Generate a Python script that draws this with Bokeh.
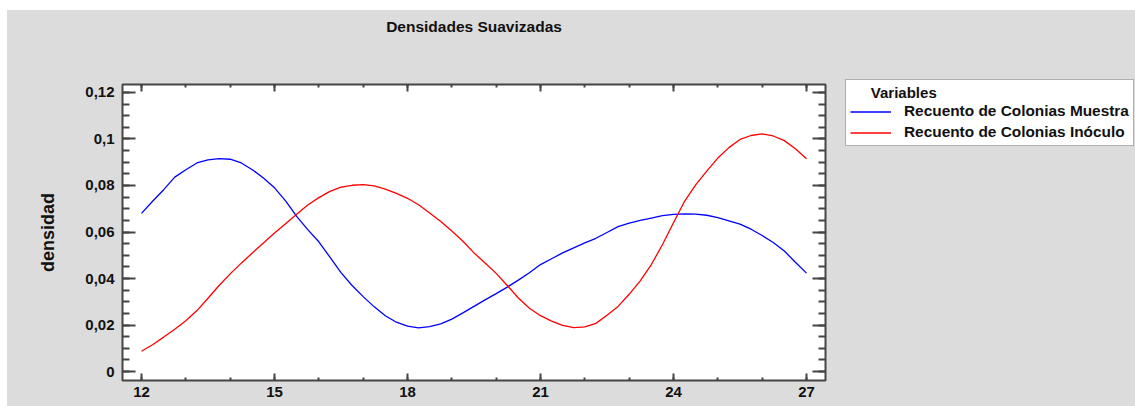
from bokeh.plotting import figure
from bokeh.models import (Range1d, FixedTicker, LinearAxis, Legend, LegendItem,
                          CustomJSTickFormatter, Spacer)
from bokeh.layouts import column, row
from bokeh.embed import file_html
from bokeh.resources import INLINE

# ---- data ----
x_vals = [12.0, 12.25, 12.5, 12.75, 13.0, 13.25, 13.5, 13.75, 14.0, 14.25,
          14.5, 14.75, 15.0, 15.25, 15.5, 15.75, 16.0, 16.25, 16.5, 16.75,
          17.0, 17.25, 17.5, 17.75, 18.0, 18.25, 18.5, 18.75, 19.0, 19.25,
          19.5, 19.75, 20.0, 20.25, 20.5, 20.75, 21.0, 21.25, 21.5, 21.75,
          22.0, 22.25, 22.5, 22.75, 23.0, 23.25, 23.5, 23.75, 24.0, 24.25,
          24.5, 24.75, 25.0, 25.25, 25.5, 25.75, 26.0, 26.25, 26.5, 26.75,
          27.0]
muestra = [0.0680, 0.0732, 0.0782, 0.0836, 0.0868, 0.0897, 0.0910, 0.0916,
           0.0913, 0.0897, 0.0868, 0.0832, 0.0790, 0.0734, 0.0667, 0.0610,
           0.0558, 0.0492, 0.0425, 0.0370, 0.0322, 0.0278, 0.0240, 0.0212,
           0.0195, 0.0188, 0.0193, 0.0205, 0.0225, 0.0252, 0.0280, 0.0308,
           0.0335, 0.0363, 0.0393, 0.0425, 0.0460, 0.0485, 0.0510, 0.0532,
           0.0553, 0.0573, 0.0598, 0.0623, 0.0638, 0.0650, 0.0660, 0.0670,
           0.0676, 0.0678, 0.0677, 0.0672, 0.0662, 0.0648, 0.0634, 0.0612,
           0.0585, 0.0555, 0.0518, 0.0470, 0.0423]
inoculo = [0.0087, 0.0115, 0.0148, 0.0182, 0.0218, 0.0262, 0.0315, 0.0370,
           0.0420, 0.0466, 0.0510, 0.0553, 0.0596, 0.0636, 0.0676, 0.0716,
           0.0748, 0.0775, 0.0793, 0.0801, 0.0804, 0.0798, 0.0784, 0.0766,
           0.0745, 0.0717, 0.0682, 0.0645, 0.0604, 0.0560, 0.0510, 0.0467,
           0.0422, 0.0370, 0.0316, 0.0272, 0.0240, 0.0217, 0.0198, 0.0189,
           0.0192, 0.0207, 0.0242, 0.0280, 0.0332, 0.0390, 0.0460, 0.0545,
           0.0640, 0.0732, 0.0803, 0.0862, 0.0918, 0.0963, 0.0998, 0.1015,
           0.1022, 0.1013, 0.0993, 0.0958, 0.0915]
series_labels = ["Recuento de Colonias Muestra", "Recuento de Colonias Inóculo"]
series_colors = ["#0000ff", "#ff0000"]
legend_title = "Variables"
chart_title = "Densidades Suavizadas"
y_label = "densidad"
x_major_ticks = [12, 15, 18, 21, 24, 27]
x_minor_ticks = [12, 13, 14, 15, 16, 17, 18, 19, 20, 21, 22, 23, 24, 25, 26, 27]
y_major_ticks = [0, 0.02, 0.04, 0.06, 0.08, 0.10, 0.12]
y_minor_ticks = [0, 0.005, 0.01, 0.015, 0.02, 0.025, 0.03, 0.035, 0.04, 0.045,
                 0.05, 0.055, 0.06, 0.065, 0.07, 0.075, 0.08, 0.085, 0.09,
                 0.095, 0.1, 0.105, 0.11, 0.115, 0.12]

FONT = "Liberation Sans"
TXT = "#111111"
FRAME = "#454545"
BG = "#dcdcdc"
W_MAIN = 833
H_TITLE = 40
H_MAIN = 356

# ---------------- title strip ----------------
t = figure(width=W_MAIN, height=H_TITLE, output_backend="svg",
           toolbar_location=None, title=chart_title,
           x_axis_location=None, y_axis_location=None,
           x_range=Range1d(0, 1), y_range=Range1d(0, 1),
           min_border_left=115, min_border_right=15, min_border_top=24,
           min_border_bottom=0, background_fill_color=BG,
           border_fill_color=BG, outline_line_color=None)
t.grid.visible = False
t.title.align = "center"
t.title.text_font = FONT
t.title.text_font_size = "15.5px"
t.title.text_font_style = "bold"
t.title.text_color = TXT
t.title.standoff = 0

# ---------------- main plot ----------------
p = figure(width=W_MAIN, height=H_MAIN, output_backend="svg",
           toolbar_location=None, title=None,
           x_range=Range1d(11.571, 27.429), y_range=Range1d(-0.00387, 0.12344),
           min_border_left=115, min_border_right=15, min_border_top=34,
           min_border_bottom=26, background_fill_color="white",
           border_fill_color=BG, outline_line_color=FRAME,
           outline_line_width=2)
p.xgrid.visible = False
p.ygrid.visible = False

xt = FixedTicker(ticks=x_major_ticks, minor_ticks=x_minor_ticks)
yt = FixedTicker(ticks=y_major_ticks, minor_ticks=y_minor_ticks)
yfmt = CustomJSTickFormatter(code="return String(parseFloat(tick.toFixed(3))).replace('.', ',');")


def style_common(ax, show, standoff):
    ax.axis_line_color = None
    ax.major_tick_out = 0
    ax.minor_tick_out = 0
    ax.major_tick_line_color = FRAME
    ax.minor_tick_line_color = FRAME
    ax.major_tick_line_width = 2
    ax.minor_tick_line_width = 2
    ax.major_label_text_font = FONT
    ax.major_label_text_font_style = "bold"
    if show:
        ax.major_label_text_color = TXT
        ax.major_label_text_font_size = "15px"
    else:
        ax.major_label_text_color = None
        ax.major_label_text_alpha = 0
        ax.major_label_text_font_size = "1px"
    ax.major_label_standoff = standoff


def style_x(ax, show, standoff):
    ax.ticker = xt
    ax.major_tick_in = 7
    ax.minor_tick_in = 3
    style_common(ax, show, standoff)


def style_y(ax, show, standoff):
    ax.ticker = yt
    ax.formatter = yfmt
    ax.major_tick_in = 13
    ax.minor_tick_in = 7
    style_common(ax, show, standoff)


style_x(p.xaxis[0], True, 6)
style_y(p.yaxis[0], True, 8)
p.yaxis[0].axis_label = y_label
p.yaxis[0].axis_label_text_font = FONT
p.yaxis[0].axis_label_text_font_style = "bold"
p.yaxis[0].axis_label_text_font_size = "18px"
p.yaxis[0].axis_label_text_color = TXT
p.yaxis[0].axis_label_standoff = 24

# mirror axes (ticks only)
top_ax = LinearAxis()
style_x(top_ax, False, 0)
p.add_layout(top_ax, "above")
right_ax = LinearAxis()
style_y(right_ax, False, 0)
p.add_layout(right_ax, "right")

p.line(x_vals, muestra, line_color=series_colors[0], line_width=1.3)
p.line(x_vals, inoculo, line_color=series_colors[1], line_width=1.3)

# ---------------- legend panel (separate canvas beside the plot) ----------------
LEG_TOP = 69
q = figure(width=295, height=H_TITLE + H_MAIN - LEG_TOP, output_backend="svg",
           toolbar_location=None, title=None,
           x_axis_location=None, y_axis_location=None,
           x_range=Range1d(0, 1), y_range=Range1d(0, 1),
           min_border_left=5, min_border_right=0, min_border_top=0,
           min_border_bottom=0, background_fill_color=BG,
           border_fill_color=BG, outline_line_color=None)
q.grid.visible = False
# legend keys (the series lie outside this canvas' ranges, so only the keys show)
k1 = q.line(x_vals, muestra, line_color=series_colors[0], line_width=1.3)
k2 = q.line(x_vals, inoculo, line_color=series_colors[1], line_width=1.3)

legend = Legend(items=[LegendItem(label=series_labels[0], renderers=[k1]),
                       LegendItem(label=series_labels[1], renderers=[k2])],
                title="\u00a0" * 5 + legend_title, location="top_left",
                border_line_color="#606060", border_line_width=1.5,
                background_fill_color="white", background_fill_alpha=1,
                padding=4, margin=0, spacing=3, glyph_width=41,
                glyph_height=15, label_height=15, label_standoff=13,
                label_text_font=FONT, label_text_font_size="15.4px",
                label_text_font_style="bold", label_text_color=TXT,
                title_text_font=FONT, title_text_font_size="15px",
                title_text_font_style="bold", title_text_color=TXT,
                title_standoff=1)
q.add_layout(legend)

left_col = column(t, p)
right_col = column(Spacer(width=295, height=LEG_TOP), q)
plots = row(left_col, right_col, styles={"background-color": BG})
page = column(Spacer(height=10, width=1135),
              row(Spacer(width=7, height=H_TITLE + H_MAIN), plots))

open("out.html", "w").write(file_html(page, INLINE))
